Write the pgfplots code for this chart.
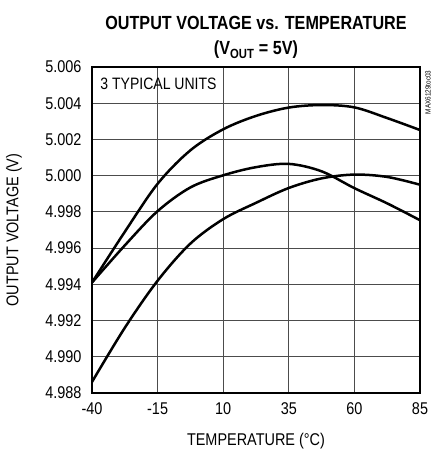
\documentclass[border=0pt]{standalone}
\usepackage{pgfplots}
\pgfplotsset{compat=1.18}
\usepackage{fontspec}
\setmainfont{Liberation Sans}[FakeStretch=0.85]
\begin{document}
\begin{tikzpicture}
\path[use as bounding box] (-92pt,-63pt) rectangle (346pt,393pt);
\begin{axis}[
  at={(0pt,0pt)}, anchor=south west,
  scale only axis, width=328pt, height=326pt,
  xmin=-40, xmax=85, ymin=4.988, ymax=5.006,
  xtick={-40,-15,10,35,60,85},
  ytick={4.988,4.990,4.992,4.994,4.996,4.998,5.000,5.002,5.004,5.006},
  scaled y ticks=false,
  ticklabel style={font=\fontsize{17}{19}\selectfont},
  yticklabel style={xshift=-7pt, /pgf/number format/.cd, fixed, fixed zerofill, precision=3, assume math mode=true},
  xticklabel style={yshift=-6pt, /pgf/number format/assume math mode=true},
  tick style={draw=none},
  grid=major,
  major grid style={draw=black!70, line width=1pt},
  axis line style={line width=2.5pt},
  xlabel={TEMPERATURE (°C)},
  ylabel={OUTPUT VOLTAGE (V)},
  label style={font=\fontsize{17}{19}\selectfont},
  xlabel style={at={(axis description cs:0.5,-0.147)}, anchor=center},
  ylabel style={at={(axis description cs:-0.238,0.5)}, anchor=center},
  clip=true,
]
\addplot[black, line width=2.5pt, smooth, tension=0.55, mark=none] coordinates {(-40,4.9941) (-27.5,4.9969) (-15,4.99955) (-2.5,5.0014) (10,5.00256) (22.5,5.0033) (35,5.00376) (47.5,5.0039) (60,5.00377) (72.5,5.00318) (85,5.00252)};
\addplot[black, line width=2.5pt, smooth, tension=0.55, mark=none] coordinates {(-40,4.9941) (-27.5,4.99615) (-15,4.99804) (-2.5,4.99935) (10,5.00002) (22.5,5.00047) (35,5.00065) (47.5,5.00024) (60,4.99931) (72.5,4.99847) (85,4.99754)};
\addplot[black, line width=2.5pt, smooth, tension=0.55, mark=none] coordinates {(-40,4.98861) (-27.5,4.9916) (-15,4.9942) (-2.5,4.99625) (10,4.9976) (22.5,4.9985) (35,4.99932) (47.5,4.99985) (60,5.00006) (72.5,4.99993) (85,4.9995)};
\node[anchor=west, font=\fontsize{16.5}{18}\selectfont] at (rel axis cs:0.015,0.948) {3 TYPICAL UNITS};
\end{axis}
\node[font=\fontsize{19}{22}\selectfont\bfseries] at (164pt,370pt) {OUTPUT VOLTAGE vs. TEMPERATURE};
\node[font=\fontsize{19}{22}\selectfont\bfseries] at (164pt,343pt) {(V\textsubscript{OUT} = 5V)};
\node[rotate=90, anchor=east, font=\fontsize{7.5}{9}\selectfont] at (336pt,326pt) {MAX6129toc03};
\end{tikzpicture}
\end{document}
